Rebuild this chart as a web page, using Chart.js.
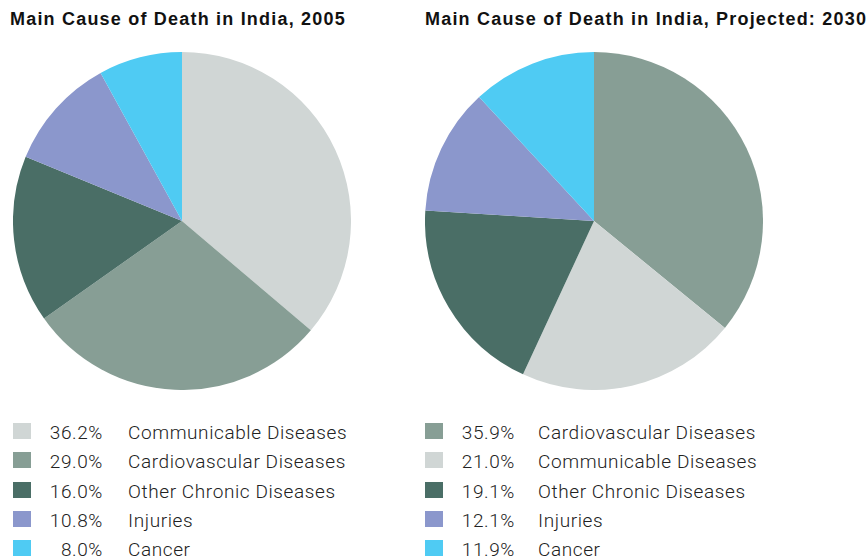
<!DOCTYPE html>
<html>
<head>
<meta charset="utf-8">
<script src="https://cdn.jsdelivr.net/npm/chart.js@4.4.1/dist/chart.umd.min.js"></script>
<style>
  html, body { margin: 0; padding: 0; background: #fff; }
  body { width: 867px; height: 559px; position: relative; overflow: hidden; font-family: "Liberation Sans", Arial, sans-serif; }
  .title { position: absolute; top: 9px; font-weight: bold; font-size: 18px; letter-spacing: 1.2px; color: #111; white-space: nowrap; }
  .pie { position: absolute; top: 52px; width: 338px; height: 338px; }
  .legend { position: absolute; top: 421px; font-family: Roboto, sans-serif; font-weight: 300; font-size: 19px; letter-spacing: 0.6px; color: #222; }
  .row { position: relative; height: 29.3px; white-space: nowrap; }
  .sw { position: absolute; left: 0; top: 2px; width: 18px; height: 16px; }
  .pct { position: absolute; width: 90px; text-align: right; top: 0; }
  .lab { position: absolute; top: 0; }
</style>
</head>
<body>
<div class="title" style="left:10px">Main Cause of Death in India, 2005</div>
<div class="title" style="left:425px">Main Cause of Death in India, Projected: 2030</div>
<canvas id="pie2005" class="pie" style="left:13px" width="338" height="338"></canvas>
<canvas id="pie2030" class="pie" style="left:425px" width="338" height="338"></canvas>
<div id="leg2005" class="legend" style="left:13px"></div>
<div id="leg2030" class="legend" style="left:425px"></div>
<script>
// 2005
const labels2005 = ["Communicable Diseases", "Cardiovascular Diseases", "Other Chronic Diseases", "Injuries", "Cancer"];
const values2005 = [36.2, 29.0, 16.0, 10.8, 8.0];
const colors2005 = ["#d0d6d5", "#879e95", "#4a6e66", "#8b97cc", "#4fcbf3"];

// 2030 projected
const labels2030 = ["Cardiovascular Diseases", "Communicable Diseases", "Other Chronic Diseases", "Injuries", "Cancer"];
const values2030 = [35.9, 21.0, 19.1, 12.1, 11.9];
const colors2030 = ["#879e95", "#d0d6d5", "#4a6e66", "#8b97cc", "#4fcbf3"];

function makePie(id, labels, values, colors) {
  new Chart(document.getElementById(id).getContext("2d"), {
    type: "pie",
    data: {
      labels,
      datasets: [{ data: values, backgroundColor: colors, borderWidth: 0 }]
    },
    options: {
      responsive: false,
      animation: false,
      layout: { padding: 0 },
      plugins: { legend: { display: false }, tooltip: { enabled: false } }
    }
  });
}

function makeLegend(id, labels, values, colors, pctRight, labLeft) {
  const box = document.getElementById(id);
  labels.forEach((lab, i) => {
    const row = document.createElement("div");
    row.className = "row";
    row.innerHTML =
      `<div class="sw" style="background:${colors[i]}"></div>` +
      `<div class="pct" style="left:${pctRight - 90}px">${values[i].toFixed(1)}%</div>` +
      `<div class="lab" style="left:${labLeft}px">${lab}</div>`;
    box.appendChild(row);
  });
}

makePie("pie2005", labels2005, values2005, colors2005);
makePie("pie2030", labels2030, values2030, colors2030);
makeLegend("leg2005", labels2005, values2005, colors2005, 90, 115);
makeLegend("leg2030", labels2030, values2030, colors2030, 90, 113);
</script>
</body>
</html>
